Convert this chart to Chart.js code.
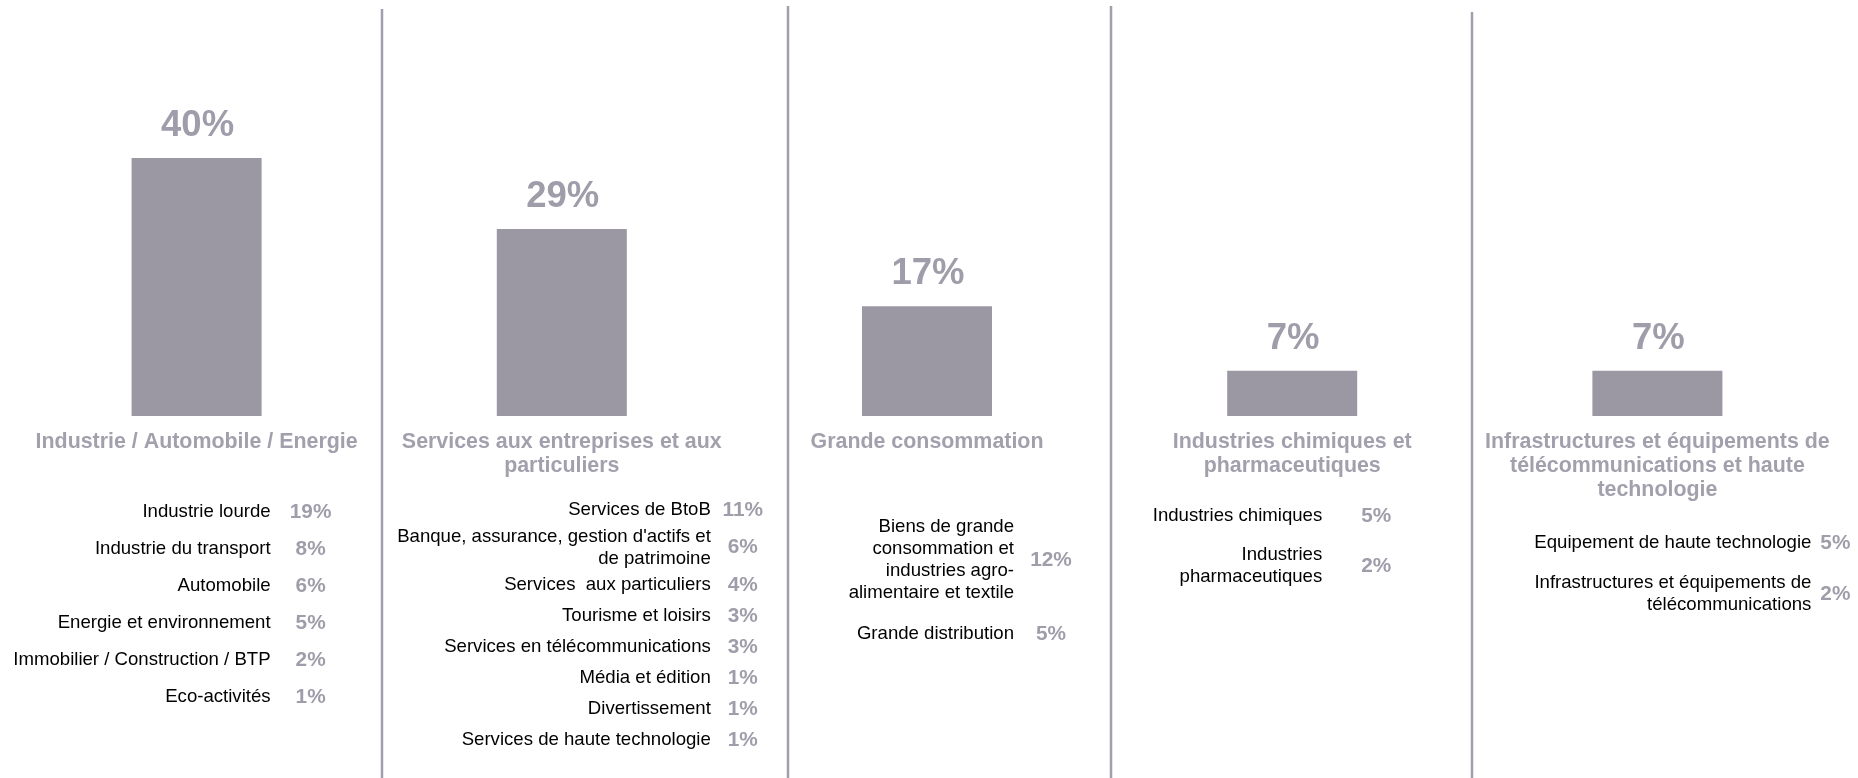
<!DOCTYPE html>
<html lang="fr">
<head>
<meta charset="utf-8">
<title>Répartition par secteur</title>
<script src="https://cdn.jsdelivr.net/npm/chart.js@4.4.1/dist/chart.umd.min.js"></script>
<style>
    html, body { margin: 0; padding: 0; background: #ffffff; }
    #chart { display: block; }
</style>
</head>
<body>
<canvas id="chart" width="1858" height="778"></canvas>
<script>
/* ---- data ---- */
const SECTORS = [
    ['Industrie / Automobile / Energie'],
    ['Services aux entreprises et aux', 'particuliers'],
    ['Grande consommation'],
    ['Industries chimiques et', 'pharmaceutiques'],
    ['Infrastructures et équipements de', 'télécommunications et haute', 'technologie'],
];
const SHARES = [40, 29, 17, 7, 7];

const SUB_LABELS = [
    [['Industrie lourde'], ['Industrie du transport'], ['Automobile'], ['Energie et environnement'],
     ['Immobilier / Construction / BTP'], ['Eco-activités']],
    [['Services de BtoB'], ['Banque, assurance, gestion d\'actifs et', 'de patrimoine'], ['Services  aux particuliers'],
     ['Tourisme et loisirs'], ['Services en télécommunications'], ['Média et édition'], ['Divertissement'],
     ['Services de haute technologie']],
    [['Biens de grande', 'consommation et', 'industries agro-', 'alimentaire et textile'], ['Grande distribution']],
    [['Industries chimiques'], ['Industries', 'pharmaceutiques']],
    [['Equipement de haute technologie'], ['Infrastructures et équipements de', 'télécommunications']],
];
const SUB_SHARES = [
    [19, 8, 6, 5, 2, 1],
    [11, 6, 4, 3, 3, 1, 1, 1],
    [12, 5],
    [5, 2],
    [5, 2],
];

/* ---- layout / style ---- */
const FONT = "'Liberation Sans', Arial, Helvetica, sans-serif";
const COLORS = {
    bar: '#9b97a3',
    heading: '#a3a0ad',
    pct: '#a09dab',
    text: '#000000',
    divider: '#a19eaf',
};
// sub-list placement per panel, offsets relative to the bar centre
const LIST_LAYOUT = [
    { top: 493.5, labelDx: 74, pctDx: 114, minH: 0, gap: 15 },
    { top: 494.5, labelDx: 149, pctDx: 181, minH: 31, gap: 0 },
    { top: 506.5, labelDx: 87, pctDx: 124, minH: 0, gap: 19 },
    { top: 496.5, labelDx: 30, pctDx: 84, minH: 0, gap: 17 },
    { top: 523, labelDx: 154, pctDx: 178, minH: 0, gap: 18 },
];
const LINE_H = 22;
const DIVIDERS = [
    { x: 382, top: 9 },
    { x: 788, top: 6 },
    { x: 1111, top: 6 },
    { x: 1472, top: 12 },
];

const panelDecor = {
    id: 'panelDecor',
    beforeDraw(chart) {
        const { ctx, height } = chart;
        ctx.save();
        ctx.strokeStyle = COLORS.divider;
        ctx.lineWidth = 2.5;
        DIVIDERS.forEach(d => {
            ctx.beginPath();
            ctx.moveTo(d.x, d.top);
            ctx.lineTo(d.x, height);
            ctx.stroke();
        });
        ctx.restore();
    },
    afterDatasetsDraw(chart) {
        const { ctx } = chart;
        const bars = chart.getDatasetMeta(0).data;
        ctx.save();
        ctx.textBaseline = 'middle';

        // headline values above the bars
        ctx.font = `bold 36.5px ${FONT}`;
        ctx.fillStyle = COLORS.pct;
        ctx.textAlign = 'center';
        bars.forEach((bar, i) => {
            ctx.fillText(SHARES[i] + '%', bar.x + 1, bar.y - 32);
        });

        // breakdown lists
        bars.forEach((bar, i) => {
            const lay = LIST_LAYOUT[i];
            let y = lay.top;
            SUB_LABELS[i].forEach((lines, j) => {
                const block = Math.max(lay.minH, lines.length * LINE_H) + lay.gap;
                const cy = y + block / 2;
                ctx.font = `18.6px ${FONT}`;
                ctx.fillStyle = COLORS.text;
                ctx.textAlign = 'right';
                lines.forEach((line, k) => {
                    const ly = cy + (k - (lines.length - 1) / 2) * LINE_H;
                    ctx.fillText(line, bar.x + lay.labelDx, ly);
                });
                ctx.font = `bold 20.8px ${FONT}`;
                ctx.fillStyle = COLORS.pct;
                ctx.textAlign = 'center';
                ctx.fillText(SUB_SHARES[i][j] + '%', bar.x + lay.pctDx, cy);
                y += block;
            });
        });
        ctx.restore();
    },
};

new Chart(document.getElementById('chart'), {
    type: 'bar',
    data: {
        labels: SECTORS,
        datasets: [{
            data: SHARES,
            backgroundColor: COLORS.bar,
            borderWidth: 0,
            categoryPercentage: 1,
            barPercentage: 0.356,
        }],
    },
    options: {
        responsive: false,
        animation: false,
        layout: { padding: { top: 93.5, left: 14, right: 18, bottom: 0 } },
        plugins: { legend: { display: false }, tooltip: { enabled: false } },
        scales: {
            y: { display: false, min: 0, max: 50 },
            x: {
                grid: { display: false, drawTicks: false },
                border: { display: false },
                afterFit: scale => { scale.height = 362; },
                ticks: {
                    autoSkip: false,
                    maxRotation: 0,
                    minRotation: 0,
                    padding: 14,
                    color: COLORS.heading,
                    font: { family: FONT, size: 21.4, weight: 'bold', lineHeight: 1.13 },
                },
            },
        },
    },
    plugins: [panelDecor],
});
</script>
</body>
</html>
